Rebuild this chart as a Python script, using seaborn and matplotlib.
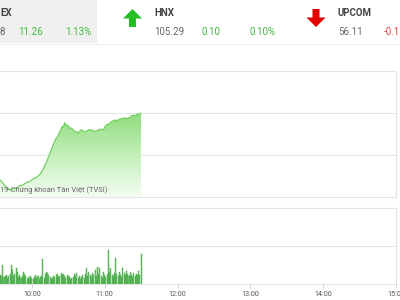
import numpy as np
import matplotlib
matplotlib.use("Agg")
import matplotlib.pyplot as plt
import seaborn as sns
from matplotlib.patches import Rectangle, Polygon
from matplotlib.lines import Line2D
from matplotlib.colors import LinearSegmentedColormap

# ---------------- data ----------------
line_times = ["9:34", "9:36", "9:38", "9:42", "9:45", "9:48", "9:50", "9:52", "9:54", "9:56",
              "9:58", "10:01", "10:03", "10:05", "10:07", "10:09", "10:12", "10:15", "10:17",
              "10:19", "10:21", "10:23", "10:25", "10:26", "10:27", "10:28", "10:29", "10:31",
              "10:33", "10:35", "10:37", "10:38", "10:40", "10:41", "10:43", "10:45", "10:47",
              "10:49", "10:51", "10:53", "10:55", "10:57", "10:59", "11:00", "11:02", "11:03",
              "11:05", "11:07", "11:08", "11:10", "11:12", "11:14", "11:16", "11:18", "11:21",
              "11:22", "11:24", "11:26", "11:27", "11:29", "11:30"]
line_values = [998.4, 998.0, 997.6, 997.0, 997.2, 997.3, 997.6, 997.7, 997.9, 998.1,
               998.2, 998.6, 998.7, 999.0, 999.3, 999.9, 1001.0, 1002.3, 1003.2,
               1004.1, 1004.6, 1005.3, 1006.1, 1006.0, 1006.6, 1006.2, 1006.3, 1005.9,
               1005.8, 1005.4, 1005.3, 1005.1, 1005.5, 1005.6, 1005.3, 1005.4, 1005.6,
               1005.6, 1005.4, 1005.4, 1005.6, 1005.7, 1005.6, 1006.0, 1006.4, 1006.3,
               1006.7, 1006.9, 1007.0, 1006.9, 1007.1, 1007.2, 1007.3, 1007.2, 1007.4,
               1007.6, 1007.7, 1007.6, 1007.9, 1007.8, 1008.0]

vol_start = "9:34"
volumes = [9, 8, 19, 7, 8, 9, 6, 8, 10, 19,
           14, 8, 10, 16, 12, 7, 9, 6, 8, 12,
           10, 8, 5, 7, 6, 8, 6, 5, 7, 9,
           6, 8, 5, 7, 8, 25, 6, 10, 12, 11,
           9, 7, 5, 6, 8, 7, 9, 10, 7, 8,
           11, 9, 10, 8, 6, 9, 8, 7, 5, 6,
           7, 10, 8, 11, 6, 8, 5, 7, 9, 6,
           10, 16, 8, 12, 9, 7, 11, 9, 14, 8,
           17, 10, 16, 8, 6, 12, 9, 7, 10, 34,
           12, 16, 9, 8, 11, 26, 10, 8, 12, 9,
           7, 16, 11, 9, 13, 10, 8, 12, 9, 7,
           11, 8, 10, 9, 13, 9, 30]

hour_ticks = ["10:00", "11:00", "12:00", "13:00", "14:00", "15:00"]

header = [
    ("EX", "8", "11.26", "1.13%", "up"),
    ("HNX", "105.29", "0.10", "0.10%", "up"),
    ("UPCOM", "56.11", "-0.1", None, "down"),
]


def to_min(s):
    h, m = s.split(":")
    return (int(h) - 9) * 60 + int(m)


# ---------------- figure ----------------
sns.set_theme(style="white")
plt.rcParams["font.family"] = ["Roboto", "DejaVu Sans"]

W, H = 400, 300
fig = plt.figure(figsize=(4, 3), dpi=100)
fig.patch.set_facecolor("white")


def fx(x):
    return x / W


def fy(y):
    return 1 - y / H


GREEN_TXT = "#3cb83c"
RED_TXT = "#e04040"
GRAY_TXT = "#666666"
DARK_TXT = "#444444"
BORDER = "#e4e4e4"

XMIN, XMAX = 33.7, 360

# ---------------- header ----------------
fig.patches.append(Rectangle((0, fy(43)), fx(97), 43 / H, transform=fig.transFigure,
                             facecolor="#efefef", edgecolor="none", zorder=0))
fig.add_artist(Line2D([0, 1], [fy(44), fy(44)], color="#eeeeee", lw=0.8))

name_x = [0, 154, 338]
vals_x = [(0, 18, 65), (154, 202, 249), (338, 384, None)]
for (name, v, ch, pct, d), nx, (x1, x2, x3) in zip(header, name_x, vals_x):
    col = GREEN_TXT if d == "up" else RED_TXT
    fig.text(fx(nx), fy(13), name, fontsize=7, fontweight="bold", color=DARK_TXT, va="center", ha="left")
    fig.text(fx(x1), fy(32), v, fontsize=7, color=GRAY_TXT, va="center", ha="left")
    fig.text(fx(x2), fy(32), ch, fontsize=7, color=col, va="center", ha="left")
    if pct is not None:
        fig.text(fx(x3), fy(32), pct, fontsize=7, color=col, va="center", ha="left")

# arrows (icons)
def arrow(cx, top, bottom, up, color):
    hw, sw, hh = 9.5, 3.5, 9.5
    if up:
        pts = [(cx, top), (cx + hw, top + hh), (cx + sw, top + hh), (cx + sw, bottom),
               (cx - sw, bottom), (cx - sw, top + hh), (cx - hw, top + hh)]
    else:
        pts = [(cx, bottom), (cx + hw, bottom - hh), (cx + sw, bottom - hh), (cx + sw, top),
               (cx - sw, top), (cx - sw, bottom - hh), (cx - hw, bottom - hh)]
    pts = [(fx(a), fy(b)) for a, b in pts]
    fig.patches.append(Polygon(pts, closed=True, transform=fig.transFigure,
                               facecolor=color, edgecolor="none"))

arrow(132.5, 9, 27, True, "#22c022")
arrow(316, 9, 27, False, "#e30000")

# ---------------- price chart ----------------
ax1 = fig.add_axes([0, fy(197), fx(396), (197 - 71) / H])
lx = [to_min(t) for t in line_times]
sns.lineplot(x=lx, y=line_values, ax=ax1, color="#74cf62", linewidth=0.9, zorder=3)

ybot = 996
poly = ax1.fill_between(lx, line_values, ybot, color="none", linewidth=0)
grad = np.linspace(1, 0, 256).reshape(-1, 1)
cmap = LinearSegmentedColormap.from_list("g", ["#f4fcf2", "#c4efb9", "#8fdc7c"])
im = ax1.imshow(grad, aspect="auto", cmap=cmap, origin="upper",
                extent=[lx[0], lx[-1], ybot, max(line_values)], zorder=2)
im.set_clip_path(poly.get_paths()[0], transform=ax1.transData)

ax1.set_xlim(XMIN, XMAX)
ax1.set_ylim(996, 1014)
ax1.set_yticks([1002, 1008])
ax1.set_xticks([])
ax1.tick_params(axis="y", length=0, labelleft=False)
ax1.grid(axis="y", color=BORDER, linewidth=0.8)
ax1.set_xlabel("")
ax1.set_ylabel("")
for s in ["top", "right", "bottom"]:
    ax1.spines[s].set_color(BORDER)
    ax1.spines[s].set_linewidth(0.8)
ax1.spines["left"].set_visible(False)

fig.text(0.0, fy(190), "19-Chứng khoán Tân Việt (TVSI)", fontsize=5.4, color="#666666",
         va="center", ha="left", zorder=10)

# ---------------- volume chart ----------------
ax2 = fig.add_axes([0, fy(284), fx(396), (284 - 208) / H])
v0 = to_min(vol_start)
vx = [v0 + i for i in range(len(volumes))]
sns.barplot(x=vx, y=volumes, ax=ax2, native_scale=True, color="#6cc86c",
            edgecolor="#3f9f3f", linewidth=0.3, width=0.85, errorbar=None, saturation=1)
ax2.set_xlim(XMIN, XMAX)
ax2.set_ylim(0, 76)
ax2.set_yticks([38])
ax2.tick_params(axis="y", length=0, labelleft=False)
ax2.grid(axis="y", color=BORDER, linewidth=0.8)
ax2.grid(axis="x", visible=False)
ax2.set_xticks([to_min(t) for t in hour_ticks])
ax2.set_xticklabels(hour_ticks)
ax2.tick_params(axis="x", length=3, width=0.6, color="#cccccc", pad=2,
                labelsize=5.2, labelcolor="#555555", bottom=True)
ax2.set_xlabel("")
ax2.set_ylabel("")
for s in ["top", "right", "bottom"]:
    ax2.spines[s].set_color(BORDER)
    ax2.spines[s].set_linewidth(0.8)
ax2.spines["left"].set_visible(False)

fig.savefig("out.png", dpi=100)
